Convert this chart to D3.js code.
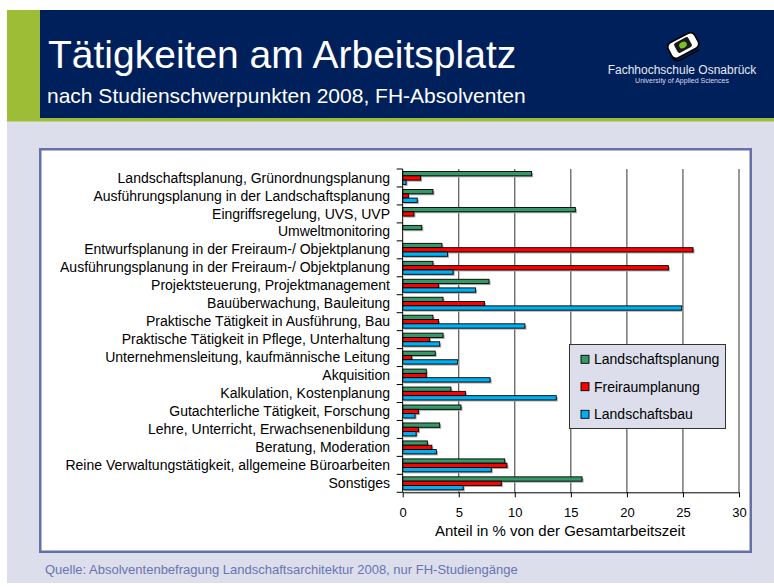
<!DOCTYPE html>
<html>
<head>
<meta charset="utf-8">
<script src="https://cdn.jsdelivr.net/npm/d3@7"></script>
<style>
  html, body { margin: 0; padding: 0; background: #ffffff; }
  svg { display: block; font-family: "Liberation Sans", Arial, sans-serif; }
</style>
</head>
<body>
<svg id="chart" width="774" height="587"></svg>
<script>
// ---- data ----
const categories = [
  "Landschaftsplanung, Grünordnungsplanung",
  "Ausführungsplanung in der Landschaftsplanung",
  "Eingriffsregelung, UVS, UVP",
  "Umweltmonitoring",
  "Entwurfsplanung in der Freiraum-/ Objektplanung",
  "Ausführungsplanung in der Freiraum-/ Objektplanung",
  "Projektsteuerung, Projektmanagement",
  "Bauüberwachung, Bauleitung",
  "Praktische Tätigkeit in Ausführung, Bau",
  "Praktische Tätigkeit in Pflege, Unterhaltung",
  "Unternehmensleitung, kaufmännische Leitung",
  "Akquisition",
  "Kalkulation, Kostenplanung",
  "Gutachterliche Tätigkeit, Forschung",
  "Lehre, Unterricht, Erwachsenenbildung",
  "Beratung, Moderation",
  "Reine Verwaltungstätigkeit, allgemeine Büroarbeiten",
  "Sonstiges"
];
const seriesNames = ["Landschaftsplanung", "Freiraumplanung", "Landschaftsbau"];
const landschaftsplanung = [11.5, 2.7, 15.4, 1.7, 3.5, 2.7, 7.7, 3.6, 2.7, 3.6, 2.9, 2.1, 4.3, 5.2, 3.3, 2.2, 9.1, 16.0];
const freiraumplanung    = [1.6, 0.5, 1.0, 0, 25.9, 23.7, 3.2, 7.3, 3.2, 2.4, 0.8, 2.1, 5.6, 1.4, 1.4, 2.6, 9.3, 8.8];
const landschaftsbau     = [0.3, 1.3, 0, 0, 4.0, 4.5, 6.5, 24.9, 10.9, 3.3, 4.9, 7.8, 13.7, 1.1, 1.2, 3.0, 7.9, 5.4];
const seriesColors = ["#339966", "#ff0000", "#00b0f0"];
const xTicks = [0, 5, 10, 15, 20, 25, 30];
const title = "Tätigkeiten am Arbeitsplatz";
const subtitle = "nach Studienschwerpunkten 2008, FH-Absolventen";
const xTitle = "Anteil in % von der Gesamtarbeitszeit";
const source = "Quelle: Absolventenbefragung Landschaftsarchitektur 2008, nur FH-Studiengänge";
const orgName = "Fachhochschule Osnabrück";
const orgSub = "University of Applied Sciences";

const seriesValues = [landschaftsplanung, freiraumplanung, landschaftsbau];

const svg = d3.select("#chart");

// ---- slide background ----
svg.append("rect").attr("x", 7).attr("y", 10).attr("width", 767).attr("height", 112).attr("fill", "#9dbd36");
svg.append("rect").attr("x", 40).attr("y", 10).attr("width", 734).attr("height", 108).attr("fill", "#00205b");
svg.append("rect").attr("x", 7).attr("y", 121.5).attr("width", 767).attr("height", 461.5).attr("fill", "#dcdeeb");

svg.append("text").attr("x", 48).attr("y", 68).attr("fill", "#ffffff")
  .attr("font-size", 39).text(title);
svg.append("text").attr("x", 47).attr("y", 103).attr("fill", "#ffffff")
  .attr("font-size", 21).text(subtitle);

// logo
const logo = svg.append("g").attr("transform", "translate(683,45) rotate(-28)");
logo.append("rect").attr("x", -15).attr("y", -8).attr("width", 30).attr("height", 17).attr("rx", 5)
  .attr("fill", "#ffffff").attr("stroke", "#000").attr("stroke-width", 1.6);
logo.append("rect").attr("x", -8).attr("y", -5.5).attr("width", 16).attr("height", 11).attr("rx", 2)
  .attr("fill", "#1a1a1a");
logo.append("ellipse").attr("cx", 0).attr("cy", 0).attr("rx", 4).attr("ry", 3).attr("fill", "#7cc225");
logo.append("path").attr("d", "M-15,6 Q-15,12 -9,12 L12,12").attr("fill", "none").attr("stroke", "#000").attr("stroke-width", 1.4);
svg.append("text").attr("x", 682).attr("y", 74).attr("text-anchor", "middle").attr("fill", "#e6e8f2")
  .attr("font-size", 12).text(orgName);
svg.append("text").attr("x", 682).attr("y", 82.5).attr("text-anchor", "middle").attr("fill", "#d8dbe8")
  .attr("font-size", 7).text(orgSub);

// chart frame
svg.append("rect").attr("x", 40.25).attr("y", 149.25).attr("width", 710.5).attr("height", 402.5)
  .attr("fill", "#ffffff").attr("stroke", "#6670a8").attr("stroke-width", 2.5);

svg.append("text").attr("x", 45).attr("y", 574).attr("fill", "#6a73b2")
  .attr("font-size", 13).text(source);

// ---- scales ----
const x = d3.scaleLinear().domain([0, 30]).range([402.7, 739]);
const pad = 0.28;
const y = d3.scaleBand().domain(categories).range([169, 492.3]).paddingInner(pad).paddingOuter(pad / 2);
const ys = d3.scaleBand().domain(seriesNames).range([0, y.bandwidth()]);

// gridlines
svg.append("g").selectAll("line").data(xTicks.filter(d => d > 0)).join("line")
  .attr("x1", d => x(d)).attr("x2", d => x(d))
  .attr("y1", y.range()[0]).attr("y2", y.range()[1])
  .attr("stroke", "#333").attr("stroke-width", 1);

// bars
seriesNames.forEach((s, si) => {
  const vals = seriesValues[si];
  const data = categories.map((c, i) => ({ c, v: vals[i] })).filter(d => d.v > 0);
  const g = svg.append("g");
  g.selectAll("rect.shadow").data(data).join("rect").attr("class", "shadow")
    .attr("x", x(0) + 1.5).attr("y", d => y(d.c) + ys(s) + 1.5)
    .attr("width", d => x(d.v) - x(0)).attr("height", ys.bandwidth())
    .attr("fill", "#a8a8a8");
  g.selectAll("rect.bar").data(data).join("rect").attr("class", "bar")
    .attr("x", x(0)).attr("y", d => y(d.c) + ys(s))
    .attr("width", d => x(d.v) - x(0)).attr("height", ys.bandwidth())
    .attr("fill", seriesColors[si]).attr("stroke", "#000").attr("stroke-width", 0.9);
});

// y axis
const yAxis = svg.append("g");
yAxis.append("line").attr("x1", x(0)).attr("x2", x(0))
  .attr("y1", y.range()[0]).attr("y2", y.range()[1]).attr("stroke", "#000");
yAxis.selectAll("line.tick").data(d3.range(categories.length + 1)).join("line").attr("class", "tick")
  .attr("x1", x(0) - 6).attr("x2", x(0))
  .attr("y1", i => y.range()[0] + i * y.step()).attr("y2", i => y.range()[0] + i * y.step())
  .attr("stroke", "#000");
yAxis.selectAll("text").data(categories).join("text")
  .attr("x", 390).attr("y", d => y(d) + y.bandwidth() / 2).attr("dy", "0.33em")
  .attr("text-anchor", "end").attr("font-size", 14).attr("fill", "#000").text(d => d);

// x axis
const xAxis = svg.append("g").attr("transform", `translate(0,${y.range()[1]})`)
  .call(d3.axisBottom(x).tickValues(xTicks).tickSize(5).tickSizeOuter(0).tickPadding(10));
xAxis.selectAll("text").attr("font-size", 13).attr("font-family", "Liberation Sans, Arial, sans-serif").attr("fill", "#000");
xAxis.selectAll("line, path").attr("stroke", "#000");

svg.append("text").attr("x", 560).attr("y", 536).attr("text-anchor", "middle")
  .attr("font-size", 15).attr("fill", "#000").text(xTitle);

// legend
const lg = svg.append("g");
lg.append("rect").attr("x", 569.5).attr("y", 344.5).attr("width", 156).attr("height", 84)
  .attr("fill", "#dcdeeb").attr("stroke", "#333").attr("stroke-width", 1);
const rowY = [359.3, 386.7, 414.3];
seriesNames.forEach((s, i) => {
  lg.append("rect").attr("x", 581).attr("y", rowY[i] - 4).attr("width", 8).attr("height", 8)
    .attr("fill", seriesColors[i]).attr("stroke", "#000").attr("stroke-width", 0.9);
  lg.append("text").attr("x", 594).attr("y", rowY[i]).attr("dy", "0.36em")
    .attr("font-size", 14).attr("fill", "#000").text(s);
});
</script>
</body>
</html>
